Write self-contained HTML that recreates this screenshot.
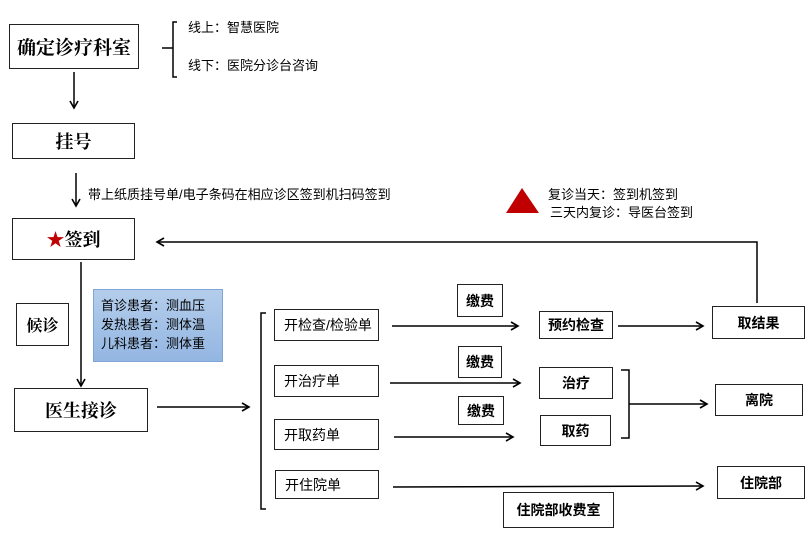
<!DOCTYPE html>
<html><head><meta charset="utf-8"><style>
body{margin:0;background:#fff;width:812px;height:536px;position:relative;overflow:hidden;font-family:"Liberation Sans","Noto Sans CJK SC",sans-serif;color:#000}
.b{position:absolute;box-sizing:border-box;border:1.3px solid #222;display:flex;align-items:center;justify-content:center;background:#fff}
.serif{font-family:"Liberation Serif","Noto Serif CJK SC",serif;font-weight:bold}
.hb{font-weight:bold;font-size:14px}
.l{justify-content:flex-start;padding-left:9px;font-size:14px}
.t{position:absolute;font-size:13px;white-space:nowrap;line-height:1}
svg{position:absolute;left:0;top:0}
</style></head><body>
<svg width="812" height="536" viewBox="0 0 812 536">
<defs><marker id="a" markerWidth="10" markerHeight="10" refX="8" refY="5" orient="auto" markerUnits="userSpaceOnUse"><path d="M1,1 L8,5 L1,9" fill="none" stroke="#000" stroke-width="1.6"/></marker></defs>
<g stroke="#000" stroke-width="1.5" fill="none">
<path d="M162,48 H173 M177,22 H173 V77 H177"/>
<line x1="74" y1="72" x2="74" y2="108" marker-end="url(#a)"/>
<line x1="76" y1="173" x2="76" y2="206" marker-end="url(#a)"/>
<path d="M757,303 V242 H157" marker-end="url(#a)"/>
<line x1="81" y1="262" x2="81" y2="386" marker-end="url(#a)"/>
<line x1="157" y1="407" x2="249" y2="407" marker-end="url(#a)"/>
<path d="M266,313 H261 V509 H266"/>
<line x1="392" y1="326" x2="518" y2="326" marker-end="url(#a)"/>
<line x1="618" y1="326" x2="703" y2="326" marker-end="url(#a)"/>
<line x1="390" y1="383" x2="520" y2="383" marker-end="url(#a)"/>
<line x1="394" y1="437" x2="513" y2="437" marker-end="url(#a)"/>
<path d="M621,370 H629 V438 H621 M629,404 L707,404" marker-end="url(#a)"/>
<line x1="393" y1="487" x2="703" y2="486" marker-end="url(#a)"/>
</g>
<polygon points="522,188 539,213 506,213" fill="#c00000"/>
</svg>
<div class="b serif" style="left:9px;top:24px;width:130px;height:45px;font-size:19px">确定诊疗科室</div>
<div class="t" style="left:188px;top:21px">线上：智慧医院</div>
<div class="t" style="left:188px;top:59px">线下：医院分诊台咨询</div>
<div class="b serif" style="left:12px;top:123px;width:123px;height:36px;font-size:18px">挂号</div>
<div class="t" style="left:88px;top:188px">带上纸质挂号单/电子条码在相应诊区签到机扫码签到</div>
<div class="b serif" style="left:12px;top:218px;width:123px;height:42px;font-size:18px"><span style="color:#c00000">★</span>签到</div>
<div class="t" style="left:548px;top:188px">复诊当天：签到机签到</div>
<div class="t" style="left:550px;top:206px">三天内复诊：导医台签到</div>
<div class="b serif" style="left:16px;top:303px;width:53px;height:43px;font-size:16px">候诊</div>
<div style="position:absolute;left:93px;top:289px;width:130px;height:73px;box-sizing:border-box;border:1px solid #7fa6d6;background:linear-gradient(#b4cdeb,#93b6e2)"></div>
<div class="t" style="left:101px;top:296px;line-height:19px">首诊患者：测血压<br>发热患者：测体温<br>儿科患者：测体重</div>
<div class="b serif" style="left:14px;top:388px;width:134px;height:44px;font-size:18px">医生接诊</div>
<div class="b l" style="left:274px;top:309px;width:105px;height:32px">开检查/检验单</div>
<div class="b l" style="left:274px;top:365px;width:105px;height:32px">开治疗单</div>
<div class="b l" style="left:274px;top:419px;width:105px;height:31px">开取药单</div>
<div class="b l" style="left:275px;top:470px;width:104px;height:29px">开住院单</div>
<div class="b hb" style="left:457px;top:284px;width:46px;height:33px">缴费</div>
<div class="b hb" style="left:458px;top:346px;width:44px;height:32px">缴费</div>
<div class="b hb" style="left:458px;top:396px;width:46px;height:29px">缴费</div>
<div class="b hb" style="left:539px;top:311px;width:74px;height:28px">预约检查</div>
<div class="b hb" style="left:539px;top:367px;width:74px;height:32px">治疗</div>
<div class="b hb" style="left:540px;top:415px;width:71px;height:31px">取药</div>
<div class="b hb" style="left:712px;top:306px;width:93px;height:33px">取结果</div>
<div class="b hb" style="left:715px;top:384px;width:88px;height:32px">离院</div>
<div class="b hb" style="left:717px;top:466px;width:88px;height:33px">住院部</div>
<div class="b hb" style="left:503px;top:492px;width:111px;height:36px">住院部收费室</div>
</body></html>
